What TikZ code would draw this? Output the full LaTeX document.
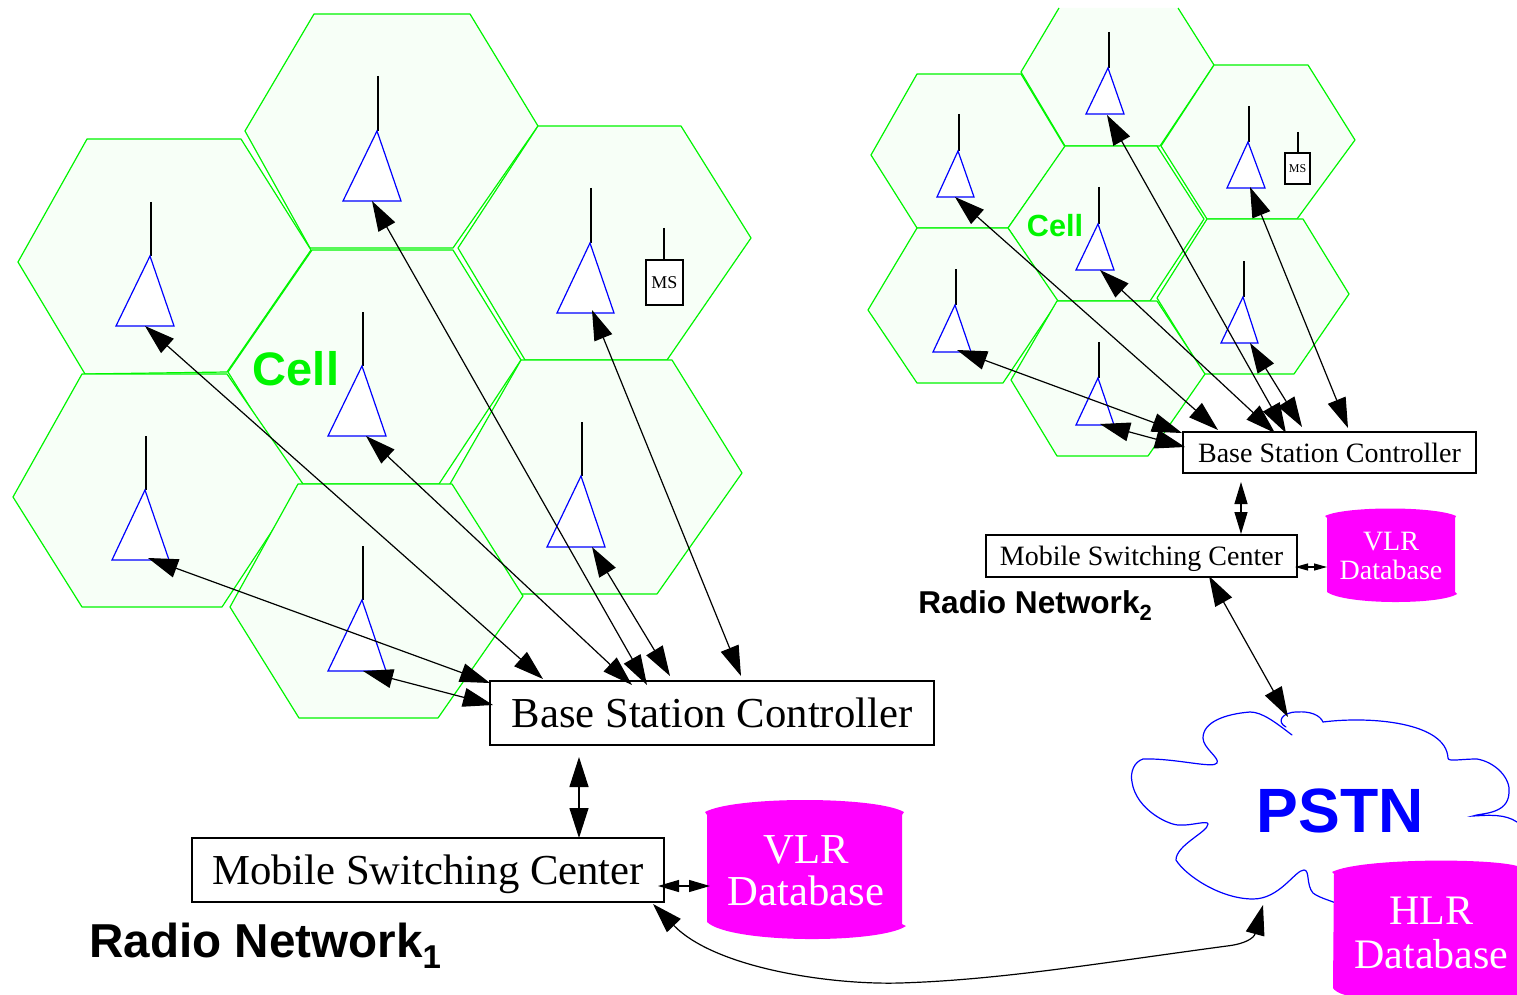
\documentclass[tikz,border=0pt]{standalone}
\usepackage{fontspec}
\setmainfont{Liberation Serif}
\setsansfont{Liberation Sans}
\usetikzlibrary{arrows.meta}
\definecolor{cellgreen}{RGB}{0,245,0}
\definecolor{cellfill}{RGB}{247,255,247}
\definecolor{dbcolor}{RGB}{255,0,255}
\tikzset{
    cellhex/.style={draw=cellgreen,fill=cellfill,line width=.6pt,line join=round},
    mast/.style={black,line width=.6pt},
    antenna/.style={draw=blue,fill=white,line width=.6pt,line join=miter},
    boxnode/.style={draw=black,fill=white,line width=.55pt,inner sep=0pt,text=black,text depth=0pt},
    dbfill/.style={fill=dbcolor},
    dbtext/.style={text=white,inner sep=0pt,align=center},
    biglink/.style={black,line width=.6pt,{Triangle[length=15pt,width=9.5pt]}-{Triangle[length=15pt,width=9.5pt]}},
    smalllink/.style={black,line width=.6pt,{Triangle[length=11pt,width=6.5pt]}-{Triangle[length=11pt,width=6.5pt]}},
    tinylink/.style={black,line width=.6pt,{Triangle[length=10.5pt,width=6pt]}-{Triangle[length=10.5pt,width=6pt]}},
    weelink/.style={black,line width=.6pt,{Triangle[length=6.5pt,width=3.5pt]}-{Triangle[length=6.5pt,width=3.5pt]}},
    cloudline/.style={blue,line width=.6pt,line cap=round}
}
\begin{document}
\begin{tikzpicture}[x=.5pt,y=-.5pt]
    \useasboundingbox (0,0) rectangle (1517,995);
    % large network cells
    \draw[cellhex] (314,14) -- (470,14) -- (538,126) -- (453,248) -- (310,248) -- (245,131) -- cycle;
    \draw[cellhex] (87,139) -- (241,139) -- (311,250) -- (227,372) -- (85,374) -- (18,262) -- cycle;
    \draw[cellhex] (538,126) -- (681,126) -- (751,238) -- (667,360) -- (525,360) -- (458,248) -- cycle;
    \draw[cellhex] (312,250) -- (453,250) -- (521,360) -- (439,484) -- (298,484) -- (228,372) -- cycle;
    \draw[cellhex] (82,374) -- (227,374) -- (303,484) -- (222,607) -- (82,607) -- (13,497) -- cycle;
    \draw[cellhex] (521,360) -- (672,360) -- (742,473) -- (657,594) -- (518,594) -- (450,484) -- cycle;
    \draw[cellhex] (298,484) -- (452,484) -- (523,596) -- (438,718) -- (299,718) -- (230,607) -- cycle;
    % small network cells
    \fill[cellfill] (1021,72) -- (1059,8) -- (1178,8) -- (1214,65) -- (1160,146) -- (1065,146) -- cycle;
    \draw[cellhex,fill=none] (1059,8) -- (1021,72) -- (1065,146) -- (1160,146) -- (1214,65) -- (1178,8);
    \draw[cellhex] (917,74) -- (1021,74) -- (1065,147) -- (1008,228) -- (917,228) -- (871,155) -- cycle;
    \draw[cellhex] (1214,65) -- (1308,65) -- (1355,140) -- (1297,219) -- (1207,219) -- (1161,146) -- cycle;
    \draw[cellhex] (1065,146) -- (1157,146) -- (1204,219) -- (1150,301) -- (1057,301) -- (1008,228) -- cycle;
    \draw[cellhex] (917,228) -- (1008,228) -- (1058,301) -- (1003,383) -- (917,383) -- (868,310) -- cycle;
    \draw[cellhex] (1207,219) -- (1303,219) -- (1349,294) -- (1294,374) -- (1204,374) -- (1157,298) -- cycle;
    \draw[cellhex] (1057,301) -- (1157,301) -- (1205,374) -- (1148,456) -- (1057,456) -- (1011,380) -- cycle;
    % large network antennas
    \draw[mast] (378,76) -- (378,131);
    \draw[antenna] (343,201) -- (401,201) -- (377,131) -- cycle;
    \draw[mast] (151,202) -- (151,256);
    \draw[antenna] (116,326) -- (174,326) -- (150,256) -- cycle;
    \draw[mast] (591,188) -- (591,243);
    \draw[antenna] (557,313) -- (614,313) -- (590,243) -- cycle;
    \draw[mast] (363,312) -- (363,366);
    \draw[antenna] (328,436) -- (386,436) -- (362,366) -- cycle;
    \draw[mast] (146,436) -- (146,490);
    \draw[antenna] (112,560) -- (169,560) -- (145,490) -- cycle;
    \draw[mast] (582,422) -- (582,476);
    \draw[antenna] (547,547) -- (605,547) -- (581,476) -- cycle;
    \draw[mast] (363,546) -- (363,600);
    \draw[antenna] (328,671) -- (386,671) -- (362,600) -- cycle;
    % small network antennas
    \draw[mast] (1109,32) -- (1109,68);
    \draw[antenna] (1086,114) -- (1124,114) -- (1108,68) -- cycle;
    \draw[mast] (959,114) -- (959,151);
    \draw[antenna] (937,197) -- (974,197) -- (958,151) -- cycle;
    \draw[mast] (1249,106) -- (1249,142);
    \draw[antenna] (1227,188) -- (1265,188) -- (1248,142) -- cycle;
    \draw[mast] (1099,187) -- (1099,224);
    \draw[antenna] (1076,270) -- (1114,270) -- (1098,224) -- cycle;
    \draw[mast] (956,269) -- (956,305);
    \draw[antenna] (933,352) -- (971,352) -- (955,305) -- cycle;
    \draw[mast] (1244,261) -- (1244,297);
    \draw[antenna] (1221,343) -- (1258,343) -- (1243,297) -- cycle;
    \draw[mast] (1099,342) -- (1099,378);
    \draw[antenna] (1076,425) -- (1114,425) -- (1098,378) -- cycle;
    % mobile stations
    \draw[mast] (664,228) -- (664,260);
    \node[boxnode,minimum width=18.5pt,minimum height=22.5pt,font=\fontsize{9}{9}\selectfont] (msLeft) at (664.5,282.5) {MS};
    \draw[mast] (1298,132) -- (1298,153);
    \node[boxnode,minimum width=12.5pt,minimum height=15.5pt,font=\fontsize{6}{6}\selectfont] (msRight) at (1297.5,168.5) {MS};
    % controllers and switches
    \node[boxnode,minimum width=222pt,minimum height=32pt,font=\fontsize{21.35}{24}\selectfont] (bscLeft) at (712,713) {Base Station Controller};
    \node[boxnode,minimum width=236pt,minimum height=32pt,font=\fontsize{21.35}{24}\selectfont] (mscLeft) at (428,870) {Mobile Switching Center};
    \node[boxnode,minimum width=146.5pt,minimum height=20.5pt,font=\fontsize{14}{16}\selectfont] (bscRight) at (1329.5,452.5) {Base Station Controller};
    \node[boxnode,minimum width=155.5pt,minimum height=21pt,font=\fontsize{14}{16}\selectfont] (mscRight) at (1141.5,556) {Mobile Switching Center};
    % link ends, large network
    \coordinate (antUL) at (145,326);
    \coordinate (antT) at (372,201);
    \coordinate (antUR) at (592,310);
    \coordinate (antC) at (366,436);
    \coordinate (antLL) at (148,558);
    \coordinate (antLR) at (592,547);
    \coordinate (antB) at (363,671);
    \coordinate (bscUL) at (543,679);
    \coordinate (bscT) at (647,685);
    \coordinate (bscUR) at (741,676);
    \coordinate (bscC) at (632,685);
    \coordinate (bscLL) at (490,683);
    \coordinate (bscLR) at (670,676);
    \coordinate (bscB) at (493,705);
    % link ends, small network
    \coordinate (rantUL) at (955,197);
    \coordinate (rantT) at (1107,115);
    \coordinate (rantUR) at (1250,187);
    \coordinate (rantC) at (1100,270);
    \coordinate (rantLL) at (957,350);
    \coordinate (rantLR) at (1250,343);
    \coordinate (rantB) at (1100,424);
    \coordinate (rbscUL) at (1218,430);
    \coordinate (rbscT) at (1286,433);
    \coordinate (rbscUR) at (1348,428);
    \coordinate (rbscC) at (1275,433);
    \coordinate (rbscLL) at (1182,433);
    \coordinate (rbscLR) at (1302,427);
    \coordinate (rbscB) at (1185,447);
    % databases
    \fill[dbfill] (707,815) -- (705,812) .. controls (735,796) and (875,796) .. (904,812) -- (902,815) -- (902,924) -- (906,926) .. controls (880,944) and (730,944) .. (707,922) -- cycle;
    \fill[dbfill] (1327,518) -- (1325,516) .. controls (1345,506) and (1435,506) .. (1456,516) -- (1455,518) -- (1455,592) -- (1457,594) .. controls (1440,605) and (1345,605) .. (1327,592) -- cycle;
    \node[dbtext,font=\fontsize{21.35}{21}\selectfont] (vlrLeft) at (806,871) {VLR\\Database};
    \node[dbtext,font=\fontsize{14}{14.5}\selectfont] (vlrRight) at (1391,556) {VLR\\Database};
    % cloud
    \draw[cloudline] (1292,735) .. controls (1275,722) and (1262,712) .. (1250,712) .. controls (1225,714) and (1203,722) .. (1203,738) .. controls (1203,748) and (1220,758) .. (1217,763) .. controls (1214,769) and (1175,758) .. (1143,759) .. controls (1134,762) and (1130,772) .. (1132,782) .. controls (1136,810) and (1170,826) .. (1180,825) .. controls (1190,826) and (1208,820) .. (1208,824) .. controls (1208,832) and (1176,845) .. (1176,860) .. controls (1185,875) and (1220,899) .. (1253,899) .. controls (1280,899) and (1295,870) .. (1304,870) .. controls (1310,870) and (1306,885) .. (1313,893) .. controls (1318,897) and (1328,900) .. (1336,903);
    \draw[cloudline] (1286,727) .. controls (1276,722) and (1282,712) .. (1297,712) .. controls (1310,711) and (1320,715) .. (1323,722) .. controls (1370,716) and (1446,722) .. (1448,758) .. controls (1448,762) and (1460,759) .. (1477,759) .. controls (1495,762) and (1511,778) .. (1509,793) .. controls (1508,815) and (1480,813) .. (1473,816) .. controls (1490,815) and (1505,814) .. (1517,822);
    \fill[dbfill] (1334,874) -- (1332,872) .. controls (1360,858) and (1490,858) .. (1517,866) -- (1517,995) -- (1345,995) .. controls (1338,993) and (1334,990) .. (1333,988) -- cycle;
    \node[dbtext,font=\fontsize{21}{22}\selectfont] (hlr) at (1431.5,932.5) {HLR\\Database};
    % links
    \draw[biglink] (antUL) -- (bscUL);
    \draw[biglink] (antT) -- (bscT);
    \draw[biglink] (antUR) -- (bscUR);
    \draw[biglink] (antC) -- (bscC);
    \draw[biglink] (antLL) -- (bscLL);
    \draw[biglink] (antLR) -- (bscLR);
    \draw[biglink] (antB) -- (bscB);
    \draw[biglink] (rantUL) -- (rbscUL);
    \draw[biglink] (rantT) -- (rbscT);
    \draw[biglink] (rantUR) -- (rbscUR);
    \draw[biglink] (rantC) -- (rbscC);
    \draw[biglink] (rantLL) -- (rbscLL);
    \draw[biglink] (rantLR) -- (rbscLR);
    \draw[biglink] (rantB) -- (rbscB);
    % trunk links
    \coordinate (upLeft) at (579,757);
    \coordinate (downLeft) at (579,838);
    \coordinate (mscLeftE) at (658,886);
    \coordinate (vlrLeftW) at (710,886);
    \coordinate (upRight) at (1241,482);
    \coordinate (downRight) at (1241,534);
    \coordinate (mscRightE) at (1295,567);
    \coordinate (vlrRightW) at (1327,567);
    \coordinate (mscRightS) at (1209,576);
    \coordinate (cloudN) at (1288,717);
    \coordinate (mscLeftS) at (653,904);
    \coordinate (cloudS) at (1263,905);
    \draw[biglink] (upLeft) -- (downLeft);
    \draw[smalllink] (upRight) -- (downRight);
    \draw[tinylink] (mscLeftE) -- (vlrLeftW);
    \draw[weelink] (mscRightE) -- (vlrRightW);
    \draw[biglink] (mscRightS) -- (cloudN);
    \draw[biglink] (mscLeftS) .. controls (715,968) and (830,985) .. (900,983) .. controls (1000,980) and (1100,963) .. (1227,946) .. controls (1245,944) and (1254,938) .. (cloudS);
    % labels
    \node[inner sep=0pt,font=\sffamily\bfseries\fontsize{23.5}{23}\selectfont,text=cellgreen] (cellLeft) at (296,368.5) {Cell};
    \node[inner sep=0pt,font=\sffamily\bfseries\fontsize{15.3}{16}\selectfont,text=cellgreen] (cellRight) at (1055,226) {Cell};
    \node[inner sep=0pt,font=\sffamily\bfseries\fontsize{31.3}{31}\selectfont,text=blue] (pstn) at (1340,811) {PSTN};
    \node[inner sep=0pt,anchor=base west,font=\sffamily\bfseries\fontsize{23.8}{24}\selectfont] (netLeft) at (89,957) {Radio Network\raisebox{-5.5pt}{\fontsize{16.5}{18}\selectfont 1}};
    \node[inner sep=0pt,anchor=base west,font=\sffamily\bfseries\fontsize{15.8}{16}\selectfont] (netRight) at (918,613) {Radio Network\raisebox{-3.6pt}{\fontsize{11}{12}\selectfont 2}};
\end{tikzpicture}
\end{document}
